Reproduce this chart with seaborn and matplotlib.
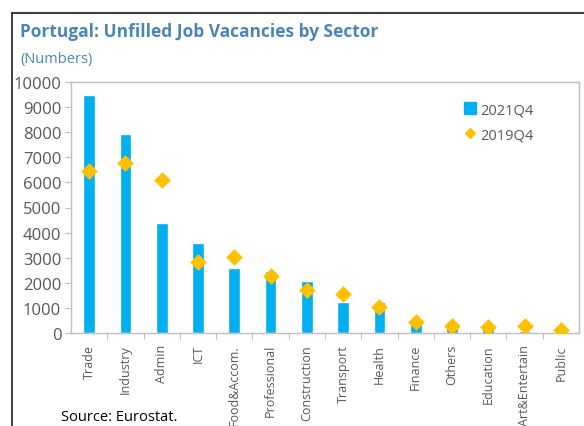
import matplotlib
matplotlib.use('Agg')
import matplotlib.pyplot as plt
import seaborn as sns
import numpy as np
from matplotlib.lines import Line2D

# --- data ---
sectors = ['Trade', 'Industry', 'Admin', 'ICT', 'Food&Accom.', 'Professional',
           'Construction', 'Transport', 'Health', 'Finance', 'Others',
           'Education', 'Art&Entertain', 'Public']
vac_2021q4 = [9480, 7940, 4370, 3590, 2600, 2470, 2070, 1250, 1220, 430, 450, 360, 90, 0]
vac_2019q4 = [6470, 6760, 6090, 2820, 3040, 2260, 1700, 1540, 1020, 430, 270, 250, 290, 130]
yticks = list(range(0, 10001, 1000))

BAR_COLOR = '#00B0F0'
DIA_COLOR = '#FFC000'
TITLE_COLOR = '#4A86B8'
TEXT_COLOR = '#595959'

sns.set_style('white')
plt.rcParams['font.family'] = ['Open Sans', 'DejaVu Sans']

fig = plt.figure(figsize=(5.84, 4.27), dpi=100)
ax = fig.add_axes([71 / 584, 1 - 334 / 427, (579 - 71) / 584, (334 - 83) / 427])

sns.barplot(x=sectors, y=vac_2021q4, color=BAR_COLOR, width=0.32, saturation=1,
            ax=ax, zorder=2)
sns.stripplot(x=sectors, y=vac_2019q4, jitter=False, marker='D', color=DIA_COLOR,
              size=8.5, linewidth=0, ax=ax, zorder=3)

ax.set_ylim(0, 10000)
ax.set_xlim(-0.5, len(sectors) - 0.5)
ax.set_yticks(yticks)
ax.set_yticklabels([str(v) for v in yticks], fontsize=12, color=TEXT_COLOR)
ax.tick_params(axis='y', length=4, width=0.8, color='#BFBFBF', pad=3, left=True)
ax.set_xticks(range(len(sectors)))
ax.set_xticklabels(sectors, rotation=90, fontsize=9, color=TEXT_COLOR)
ax.set_xticks(np.arange(0.5, len(sectors) - 0.5, 1), minor=True)
ax.tick_params(axis='x', which='major', length=0, pad=8)
ax.tick_params(axis='x', which='minor', length=4, width=0.8, color='#BFBFBF', bottom=True)
for s in ax.spines.values():
    s.set_visible(True)
    s.set_color('#BFBFBF')
    s.set_linewidth(1)

handles = [Line2D([], [], marker='s', linestyle='none', color=BAR_COLOR, markersize=8),
           Line2D([], [], marker='D', linestyle='none', color=DIA_COLOR, markersize=5)]
ax.legend(handles, ['2021Q4', '2019Q4'], loc='upper left',
          bbox_to_anchor=((450 - 71) / 508, 1 - (90 - 83) / 251),
          frameon=False, fontsize=10.5, handletextpad=0.15, handlelength=1.0,
          labelspacing=0.7, labelcolor=TEXT_COLOR)

# title block
fig.text(20 / 584, 1 - 37 / 427, 'Portugal: Unfilled Job Vacancies by Sector',
         fontsize=12.5, fontweight='bold', color=TITLE_COLOR, va='baseline')
fig.text(20 / 584, 1 - 63 / 427, '(Numbers)', fontsize=10.5, color=TITLE_COLOR,
         va='baseline')
fig.text(61 / 584, 1 - 421 / 427, 'Source: Eurostat.', fontsize=10.5, color='#000000',
         va='baseline')

# outer frame lines
fig.add_artist(Line2D([12 / 584, 1], [1 - 14 / 427] * 2, color='#404040', lw=1.5))
fig.add_artist(Line2D([12 / 584] * 2, [0, 1 - 14 / 427], color='#202020', lw=1.2))

fig.savefig('out.png', dpi=100)
